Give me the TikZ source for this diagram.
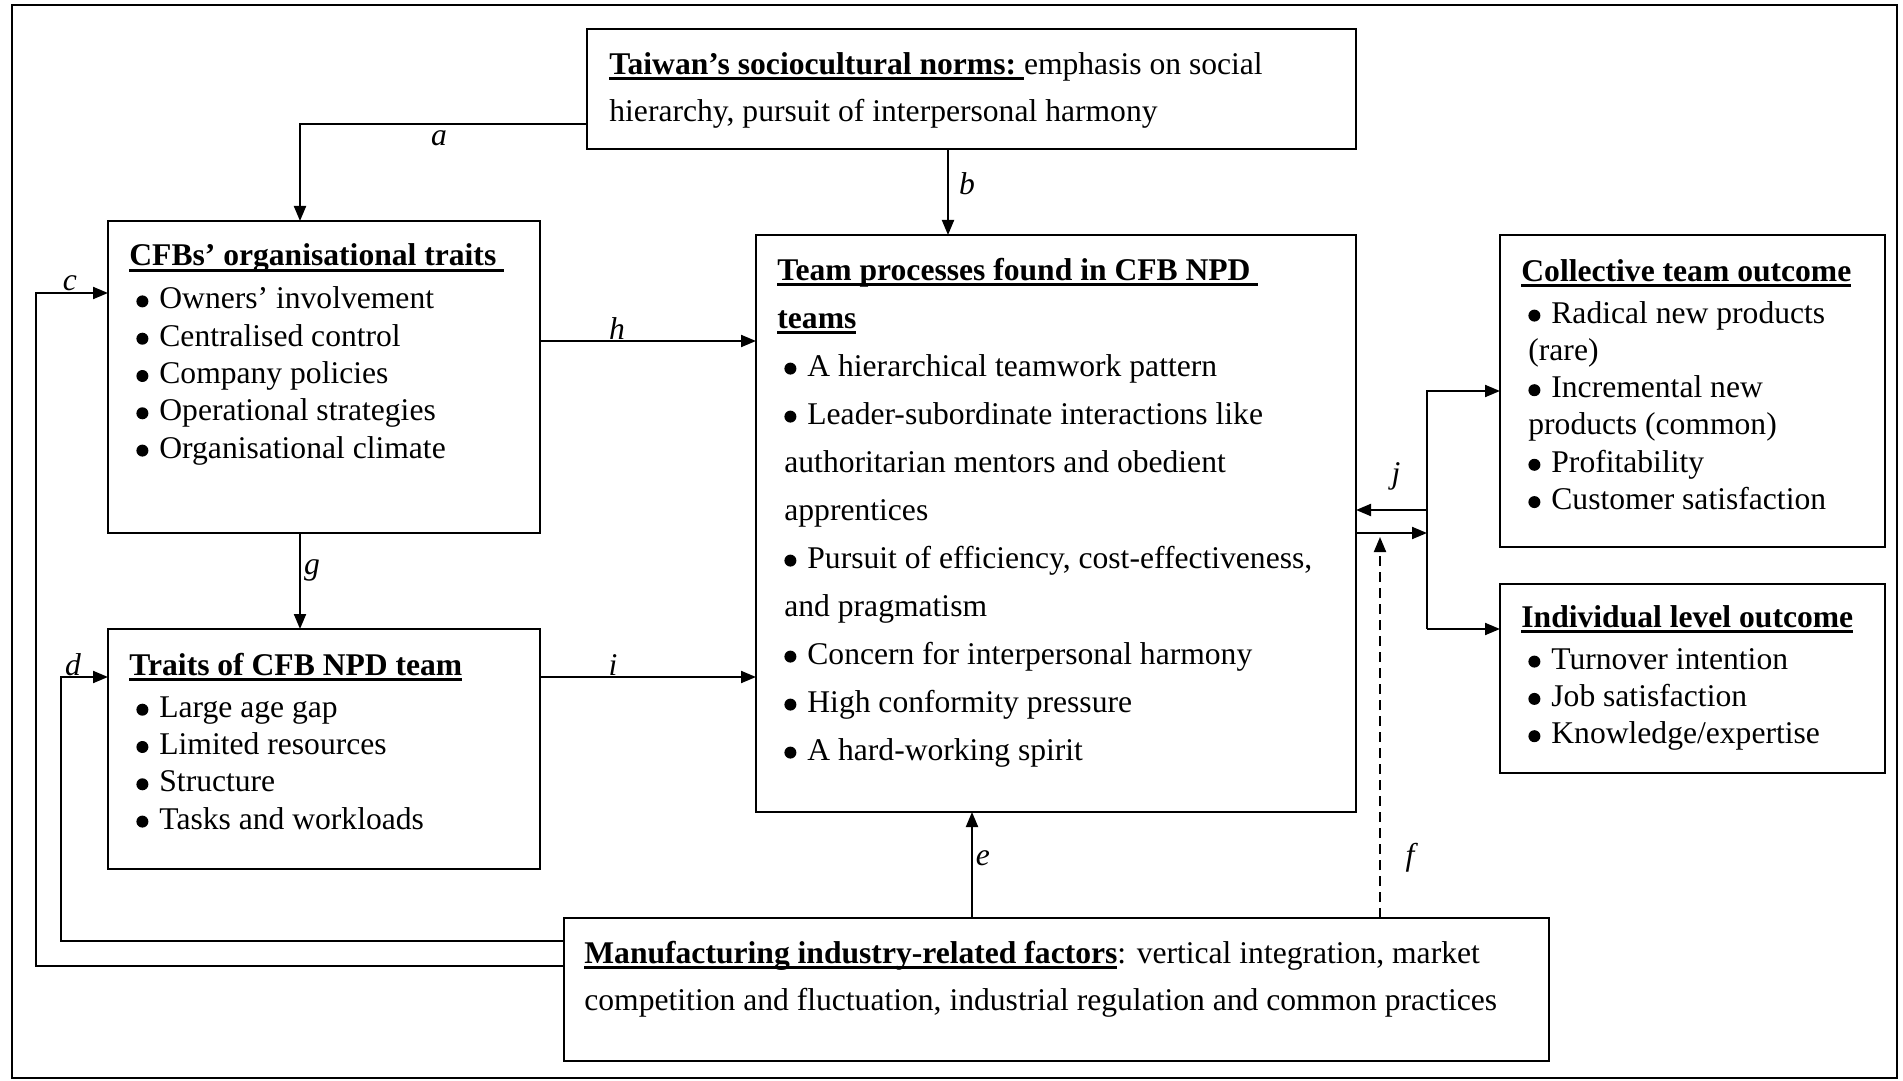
\documentclass[tikz,border=0pt]{standalone}
\usepackage{fontspec}
\setmainfont{Liberation Serif}
\usetikzlibrary{arrows.meta,calc}
% bold heading with a heavy underline
\newcommand\ulhd[1]{\setbox0=\hbox{\bfseries #1}\rlap{\rule[-3pt]{\wd0}{1.4pt}}\box0}
% round list bullet
\newcommand\bul{\hspace*{3.5pt}\tikz[baseline=0pt]\fill (3pt,3.7pt) circle[radius=3pt];\hspace{5.5pt}}
\newcommand\cont{\hspace*{3.5pt}}
\begin{document}
\begin{tikzpicture}[x=0.5pt,y=-0.5pt,
  box/.style={draw,line width=0.8pt,rectangle,outer sep=0pt,inner sep=0pt},
  % multi-line texts are placed by the baseline of their last line
  txt/.style={anchor=base west,align=left,inner sep=0pt,font=\fontsize{15.8}{18.65}\selectfont},
  wide/.style={font=\fontsize{15.8}{24}\selectfont},
  arr/.style={line width=1pt,-{Triangle[length=7.5pt,width=6pt]}},
  lbl/.style={font=\fontsize{15.8}{18}\selectfont\itshape,inner sep=0pt}]
\useasboundingbox (0,0) rectangle (1903,1081);
\draw[line width=1pt] (12,5) rectangle (1897,1078);

% boxes
\node[box,minimum width=384.5pt,minimum height=60pt]   (tw)   at (971.5,89)    {};
\node[box,minimum width=216pt,minimum height=156pt]    (cfb)  at (324,377)     {};
\node[box,minimum width=216pt,minimum height=120pt]    (tr)   at (324,749)     {};
\node[box,minimum width=300pt,minimum height=288.5pt]  (team) at (1056,523.5)  {};
\node[box,minimum width=192.5pt,minimum height=156pt]  (co)   at (1692.5,391)  {};
\node[box,minimum width=192.5pt,minimum height=94.5pt] (ind)  at (1692.5,678.5){};
\node[box,minimum width=492.5pt,minimum height=71.5pt] (mf)   at (1056.5,989.5){};

% box texts
\node[txt,wide] (twt) at (609,122) {\ulhd{Taiwan’s sociocultural norms:\ }emphasis on social\\
hierarchy, pursuit of interpersonal harmony};

\node[txt] (cfbt) at (129,458) {\ulhd{CFBs’ organisational traits\ }\\[2.85pt]
\bul Owners’ involvement\\
\bul Centralised control\\
\bul Company policies\\
\bul Operational strategies\\
\bul Organisational climate};

\node[txt] (trt) at (129,829) {\ulhd{Traits of CFB NPD team}\\[2.35pt]
\bul Large age gap\\
\bul Limited resources\\
\bul Structure\\
\bul Tasks and workloads};

\node[txt,wide] (teamt) at (777,760) {\ulhd{Team processes found in CFB NPD\ }\\
\ulhd{teams}\\
\bul A hierarchical teamwork pattern\\
\bul Leader-subordinate interactions like\\
\cont authoritarian mentors and obedient\\
\cont apprentices\\
\bul Pursuit of efficiency, cost-effectiveness,\\
\cont and pragmatism\\
\bul Concern for interpersonal harmony\\
\bul High conformity pressure\\
\bul A hard-working spirit};

\node[txt] (cot) at (1521,509.5) {\ulhd{Collective team outcome}\\[2.35pt]
\bul Radical new products\\
\cont (rare)\\
\bul Incremental new\\
\cont products (common)\\
\bul Profitability\\
\bul Customer satisfaction};

\node[txt] (indt) at (1521,743.6) {\ulhd{Individual level outcome}\\[2.35pt]
\bul Turnover intention\\
\bul Job satisfaction\\
\bul Knowledge/expertise};

\node[txt,font=\fontsize{15.8}{23.5}\selectfont] (mft) at (584,1010)
{\ulhd{Manufacturing industry-related factors}: vertical integration, market\\
competition and fluctuation, industrial regulation and common practices};

% connectors
\draw[arr] ($(tw.west)+(0,35)$) -| ($(cfb.north)+(-24,0)$);
\draw[arr] ($(tw.south)+(-23.5,0)$) coordinate (b0) -- (b0 |- team.north);
\draw[arr] ($(mf.west)+(0,-23.5)$) -| ($(cfb.west)+(-72,-84)$) -- ($(cfb.west)+(0,-84)$);
\draw[arr] ($(mf.west)+(0,-48.5)$) -| ($(tr.west)+(-47,-72)$) -- ($(tr.west)+(0,-72)$);
\draw[arr] ($(cfb.south)+(-24,0)$) -- ($(tr.north)+(-24,0)$);
\draw[arr] ($(cfb.east)+(0,-36)$) coordinate (h0) -- (h0 -| team.west);
\draw[arr] ($(tr.east)+(0,-72)$) coordinate (i0) -- (i0 -| team.west);
\draw[arr] ($(mf.north)+(-84.5,0)$) coordinate (e0) -- (e0 |- team.south);

\coordinate (jx) at ($(team.east)+(71,0)$);
\draw[arr] ($(team.east)+(0,9.5)$) coordinate (j0) -- (j0 -| jx);
\draw[arr] ($(team.east)+(71,-13.5)$) -- ($(team.east)+(0,-13.5)$);
\coordinate (k1) at ($(ind.west)+(0,-49.5)$);
\draw[arr] (k1 -| jx) |- (co.west);
\draw[arr] (k1 -| jx) -- (k1);
\draw[arr,dashed,dash pattern=on 5pt off 3pt] ($(mf.north)+(323.5,0)$) coordinate (f0) -- ($(f0 |- j0)+(0,4)$);

% connector labels
\node[lbl] (la) at (439,138) {a};
\node[lbl] (lb) at (967,184) {b};
\node[lbl] (lc) at (70,283)  {c};
\node[lbl] (ld) at (73,665)  {d};
\node[lbl] (le) at (983,858) {e};
\node[lbl] (lf) at (1410,858){f};
\node[lbl] (lg) at (312,570) {g};
\node[lbl] (lh) at (617,329) {h};
\node[lbl] (li) at (613,665) {i};
\node[lbl] (lj) at (1396,476){j};
\end{tikzpicture}
\end{document}
